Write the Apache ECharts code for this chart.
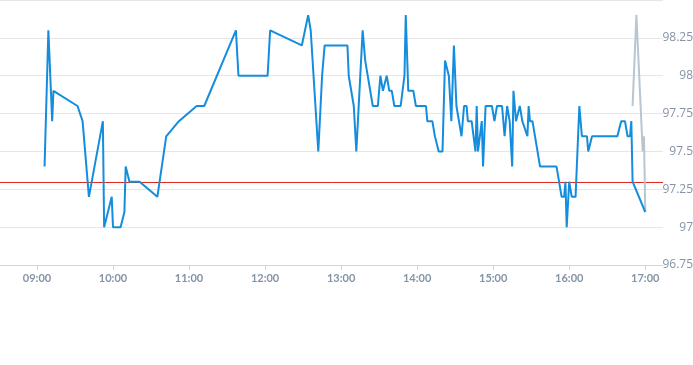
<!DOCTYPE html>
<html>
<head>
<meta charset="utf-8">
<script src="https://cdn.jsdelivr.net/npm/echarts@6/dist/echarts.min.js"></script>
<style>html,body{margin:0;padding:0;background:#fff}#c{width:693px;height:365px}</style>
</head>
<body>
<div id="c"></div>
<script>
// Main series (blue): times and values
const mainTimes = ["09:06","09:09","09:12","09:13","09:32","09:36","09:41","09:52","09:53","09:59","10:00","10:06","10:09","10:10","10:13","10:21","10:35","10:42","10:52","11:06","11:12","11:37","11:39","12:02","12:04","12:29","12:34","12:36","12:42","12:45","12:47","13:05","13:06","13:10","13:12","13:17","13:19","13:25","13:29","13:31","13:33","13:36","13:38","13:40","13:42","13:47","13:50","13:51","13:53","13:57","13:59","14:07","14:08","14:12","14:14","14:17","14:20","14:22","14:25","14:27","14:29","14:31","14:35","14:37","14:39","14:40","14:43","14:46","14:47","14:48","14:51","14:52","14:54","14:59","15:01","15:03","15:07","15:09","15:11","15:13","15:15","15:16","15:18","15:21","15:23","15:24","15:27","15:28","15:29","15:31","15:37","15:50","15:54","15:56","15:57","15:58","16:00","16:02","16:05","16:06","16:08","16:10","16:14","16:15","16:18","16:38","16:41","16:44","16:46","16:48","16:49","16:50","17:00"];
const mainValues = [97.4,98.3,97.7,97.9,97.8,97.7,97.2,97.7,97.0,97.2,97.0,97.0,97.1,97.4,97.3,97.3,97.2,97.6,97.7,97.8,97.8,98.3,98.0,98.0,98.3,98.2,98.4,98.3,97.5,98.0,98.2,98.2,98.0,97.8,97.5,98.3,98.1,97.8,97.8,98.0,97.9,98.0,97.9,97.9,97.8,97.8,98.0,98.4,97.9,97.9,97.8,97.8,97.7,97.7,97.6,97.5,97.5,98.1,98.0,97.7,98.2,97.8,97.6,97.8,97.8,97.7,97.7,97.5,97.8,97.5,97.7,97.4,97.8,97.8,97.7,97.8,97.8,97.6,97.8,97.7,97.4,97.9,97.7,97.8,97.7,97.7,97.6,97.8,97.7,97.7,97.4,97.4,97.2,97.2,97.3,97.0,97.3,97.2,97.2,97.4,97.8,97.6,97.6,97.5,97.6,97.6,97.7,97.7,97.6,97.6,97.7,97.3,97.1];
// Secondary series (grey)
const greyTimes = ["16:50","16:51","16:53","16:58","16:59","17:00"];
const greyValues = [97.8,97.8,98.4,97.5,97.6,97.1];
// Reference line
const refValue = 97.295;
// Axis range
const xMinTime = "08:30:50";
const xMaxTime = "17:14:00";
const yTicksMin = 96.75, yTicksMax = 98.5, yStep = 0.25;

function ts(s) {
  const p = s.split(':').map(Number);
  return new Date(2024, 0, 2, p[0], p[1], p[2] || 0).getTime();
}
const mainData = mainTimes.map((t, i) => [ts(t), mainValues[i]]);
const greyData = greyTimes.map((t, i) => [ts(t), greyValues[i]]);
const refData = [[ts(xMinTime), refValue], [ts(xMaxTime), refValue]];
function pad(n){return (n<10?'0':'')+n;}

const chart = echarts.init(document.getElementById('c'), null, {renderer: 'canvas'});
chart.setOption({
  animation: false,
  grid: {left: 0, right: 30, top: 0, bottom: 100, containLabel: false, outerBoundsMode: 'none'},
  xAxis: {
    type: 'time',
    min: ts(xMinTime),
    max: ts(xMaxTime),
    minInterval: 3600000,
    maxInterval: 3600000,
    axisLine: {show: true, lineStyle: {color: '#ccd6eb', width: 1}},
    axisTick: {show: true, length: 5, lineStyle: {color: '#ccd6eb'}},
    splitLine: {show: false},
    axisLabel: {
      color: '#8593a6', fontSize: 11, fontWeight: 'bold', margin: 8,
      fontFamily: 'Lato, "DejaVu Sans", sans-serif',
      showMinLabel: false, showMaxLabel: false,
      formatter: function (v) { const d = new Date(v); return pad(d.getHours()) + ':' + pad(d.getMinutes()); }
    }
  },
  yAxis: {
    type: 'value',
    position: 'right',
    min: yTicksMin,
    max: yTicksMax,
    interval: yStep,
    axisLine: {show: false},
    axisTick: {show: false},
    splitLine: {show: true, lineStyle: {color: '#e6e6e6', width: 1}},
    axisLabel: {
      color: '#8593a6', fontSize: 12, align: 'right', margin: 30,
      fontFamily: '"Open Sans", "DejaVu Sans", sans-serif',
      showMaxLabel: false
    }
  },
  series: [
    {
      type: 'line', data: refData, showSymbol: false, symbol: 'none', silent: true,
      lineStyle: {color: '#e3221c', width: 1},
      z: 1
    },
    {
      type: 'line', data: mainData, showSymbol: false, symbol: 'none',
      lineStyle: {color: '#158ddd', width: 2},
      z: 3
    },
    {
      type: 'line', data: greyData, showSymbol: false, symbol: 'none',
      lineStyle: {color: '#b8c6d1', width: 2},
      z: 2
    }
  ]
});
</script>
</body>
</html>
